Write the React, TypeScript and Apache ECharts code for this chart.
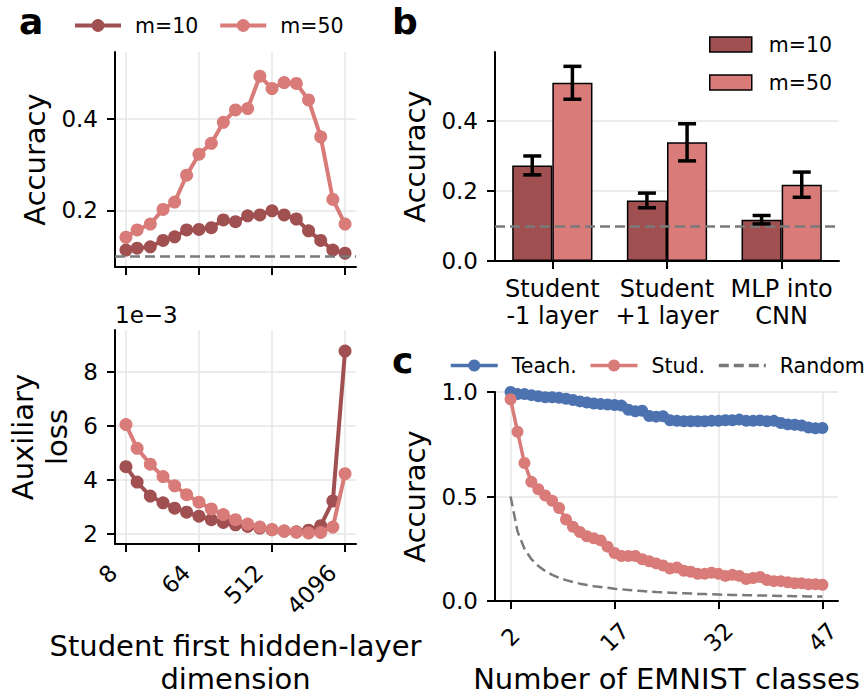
import React, { useEffect, useRef } from 'react';
import * as echarts from 'echarts';

// ---------- Panel a ----------
const dims = [8, 11, 16, 23, 32, 45, 64, 91, 128, 181, 256, 362, 512, 724, 1024, 1448, 2048, 2896, 4096];
const dimTicks = [8, 64, 512, 4096];
const accM10 = [0.113, 0.117, 0.12, 0.134, 0.142, 0.157, 0.158, 0.162, 0.179, 0.175, 0.188, 0.19, 0.199, 0.19, 0.181, 0.155, 0.134, 0.113, 0.106];
const accM50 = [0.141, 0.157, 0.17, 0.202, 0.218, 0.277, 0.323, 0.347, 0.393, 0.42, 0.423, 0.494, 0.467, 0.48, 0.478, 0.442, 0.361, 0.224, 0.17];
// auxiliary loss in units of 1e-3
const lossM10 = [4.49, 3.92, 3.4, 3.15, 2.95, 2.8, 2.65, 2.52, 2.42, 2.33, 2.27, 2.21, 2.15, 2.1, 2.07, 2.13, 2.3, 3.22, 8.78];
const lossM50 = [6.05, 5.17, 4.58, 4.12, 3.78, 3.45, 3.17, 2.92, 2.71, 2.52, 2.36, 2.25, 2.15, 2.1, 2.06, 2.03, 2.05, 2.25, 4.23];
const accTicksA = [0.2, 0.4];
const lossTicks = [2, 4, 6, 8];
const chanceA = 0.1;

// ---------- Panel b ----------
const barCats = ['Student\n-1 layer', 'Student\n+1 layer', 'MLP into\nCNN'];
const barM10 = [0.273, 0.173, 0.118];
const errM10 = [0.027, 0.021, 0.012];
const barM50 = [0.509, 0.339, 0.218];
const errM50 = [0.047, 0.053, 0.036];
const accTicksB = [0, 0.2, 0.4];
const chanceB = 0.1;

// ---------- Panel c ----------
const classes = [2, 3, 4, 5, 6, 7, 8, 9, 10, 11, 12, 13, 14, 15, 16, 17, 18, 19, 20, 21, 22, 23, 24, 25, 26, 27, 28, 29, 30, 31, 32, 33, 34, 35, 36, 37, 38, 39, 40, 41, 42, 43, 44, 45, 46, 47];
const teacher = [1.0, 0.99, 0.99, 0.985, 0.98, 0.975, 0.975, 0.972, 0.968, 0.962, 0.955, 0.95, 0.945, 0.942, 0.94, 0.938, 0.935, 0.915, 0.908, 0.91, 0.885, 0.882, 0.884, 0.865, 0.862, 0.86, 0.86, 0.86, 0.86, 0.862, 0.862, 0.865, 0.865, 0.868, 0.862, 0.862, 0.864, 0.86, 0.862, 0.852, 0.845, 0.843, 0.84, 0.83, 0.826, 0.828];
const student = [0.965, 0.81, 0.66, 0.57, 0.535, 0.505, 0.48, 0.445, 0.39, 0.355, 0.33, 0.31, 0.3, 0.29, 0.26, 0.23, 0.215, 0.215, 0.215, 0.2, 0.19, 0.18, 0.17, 0.155, 0.16, 0.145, 0.14, 0.13, 0.13, 0.135, 0.13, 0.12, 0.125, 0.12, 0.105, 0.11, 0.115, 0.1, 0.095, 0.095, 0.09, 0.085, 0.085, 0.08, 0.08, 0.078];
const randomAcc = [0.5, 0.333, 0.25, 0.2, 0.167, 0.143, 0.125, 0.111, 0.1, 0.091, 0.083, 0.077, 0.071, 0.067, 0.063, 0.059, 0.056, 0.053, 0.05, 0.048, 0.045, 0.043, 0.042, 0.04, 0.038, 0.037, 0.036, 0.034, 0.033, 0.032, 0.031, 0.03, 0.029, 0.029, 0.028, 0.027, 0.026, 0.026, 0.025, 0.024, 0.024, 0.023, 0.023, 0.022, 0.022, 0.021];
const classTicks = [2, 17, 32, 47];
const accTicksC = [0, 0.5, 1];

const FONT = "'DejaVu Sans', 'Liberation Sans', sans-serif";
const C10 = '#a15052';
const C50 = '#d87b79';
const CT = '#4c72b0';
const GRAY = '#7a7a7a';

function baseAxis(gridIndex: number, extra: any) {
  const { axisLabel = {}, axisTick = {}, splitLine = {}, nameTextStyle = {}, ...rest } = extra;
  return {
    gridIndex,
    axisLine: { show: true, onZero: false, lineStyle: { color: '#000', width: 2 } },
    axisTick: { show: true, length: 8, lineStyle: { color: '#000', width: 2 }, ...axisTick },
    axisLabel: { color: '#000', fontSize: 23, fontFamily: FONT, margin: 17, ...axisLabel },
    splitLine: { show: true, lineStyle: { color: '#e6e6e6', width: 1.5 }, ...splitLine },
    nameLocation: 'middle',
    nameTextStyle: { color: '#000', fontSize: 29, fontFamily: FONT, ...nameTextStyle },
    ...rest,
  };
}

function lineSeries(name: string, data: any[], color: string, idx: number, lw: number, size: number, z: number) {
  return {
    type: 'line',
    name,
    data,
    xAxisIndex: idx,
    yAxisIndex: idx,
    color,
    symbol: 'circle',
    symbolSize: size,
    showAllSymbol: true,
    lineStyle: { color, width: lw },
    itemStyle: { color },
    emphasis: { disabled: true },
    z,
  };
}

const chanceLine = (v: number) => ({
  silent: true,
  symbol: 'none',
  label: { show: false },
  lineStyle: { color: GRAY, type: [10, 5], width: 2.5 },
  data: [{ yAxis: v }],
});

function errRender(sign: number) {
  return (params: any, api: any) => {
    const idx = api.value(0);
    const lo = api.coord([idx, api.value(1)]);
    const hi = api.coord([idx, api.value(2)]);
    const band = api.size([1, 0])[0];
    const barW = (band * 0.7) / 2;
    const x = lo[0] + (sign * barW) / 2;
    const cap = 9;
    const style = { stroke: '#000', lineWidth: 3.5 };
    return {
      type: 'group',
      children: [
        { type: 'line', shape: { x1: x, y1: lo[1], x2: x, y2: hi[1] }, style },
        { type: 'line', shape: { x1: x - cap, y1: lo[1], x2: x + cap, y2: lo[1] }, style },
        { type: 'line', shape: { x1: x - cap, y1: hi[1], x2: x + cap, y2: hi[1] }, style },
      ],
    };
  };
}

// y is the top of the text box
function letter(t: string, x: number, y: number) {
  return {
    type: 'text',
    x,
    y,
    style: {
      text: t,
      font: `bold 36px ${FONT}`,
      fill: '#000',
      verticalAlign: 'top',
      textVerticalAlign: 'top',
    },
  };
}

const legendText = { fontSize: 20.5, color: '#000', fontFamily: FONT, padding: [0, 0, 0, 9] };

function buildOption() {
  const logX = (i: number) => Math.log2(dims[i]);
  const logTicks = dimTicks.map((d) => Math.log2(d));
  return {
    animation: false,
    backgroundColor: '#fff',
    textStyle: { fontFamily: FONT },
    grid: [
      { left: 115, top: 52, width: 241, height: 215 },
      { left: 115, top: 330, width: 241, height: 216 },
      { left: 495, top: 52, width: 344, height: 209 },
      { left: 495, top: 392, width: 343, height: 209 },
    ],
    xAxis: [
      baseAxis(0, {
        type: 'value', min: 2.55, max: 12.45,
        axisTick: { customValues: logTicks },
        axisLabel: { show: false, customValues: logTicks },
      }),
      baseAxis(1, {
        type: 'value', min: 2.55, max: 12.45,
        axisTick: { customValues: logTicks },
        axisLabel: {
          customValues: logTicks, rotate: 45, margin: 12, padding: [0, 18, 0, 0],
          formatter: (v: number) => String(Math.round(Math.pow(2, v))),
        },
        name: 'Student first hidden-layer\ndimension', nameGap: 85,
        nameTextStyle: { lineHeight: 33 },
      }),
      baseAxis(2, {
        type: 'category', data: barCats,
        axisTick: { alignWithLabel: true },
        axisLabel: { fontSize: 24, lineHeight: 27, margin: 14, interval: 0 },
        splitLine: { show: false },
      }),
      baseAxis(3, {
        type: 'value', min: -0.25, max: 49.25,
        axisTick: { customValues: classTicks },
        axisLabel: { customValues: classTicks, rotate: 45, align: 'center', margin: 36 },
        name: 'Number of EMNIST classes', nameGap: 61,
        nameTextStyle: { lineHeight: 33 },
      }),
    ],
    yAxis: [
      baseAxis(0, {
        type: 'value', min: 0.0758, max: 0.547,
        axisTick: { customValues: accTicksA },
        axisLabel: { customValues: accTicksA, formatter: (v: number) => v.toFixed(1) },
        name: 'Accuracy', nameGap: 66,
      }),
      baseAxis(1, {
        type: 'value', min: 1.62, max: 9.56,
        axisTick: { customValues: lossTicks },
        axisLabel: { customValues: lossTicks, formatter: (v: number) => String(v) },
        name: 'Auxiliary\nloss', nameGap: 41,
        nameTextStyle: { lineHeight: 34 },
      }),
      baseAxis(2, {
        type: 'value', min: 0, max: 0.597,
        axisTick: { customValues: accTicksB },
        axisLabel: { customValues: accTicksB, formatter: (v: number) => v.toFixed(1) },
        name: 'Accuracy', nameGap: 66,
      }),
      baseAxis(3, {
        type: 'value', min: 0, max: 1,
        axisTick: { customValues: accTicksC },
        axisLabel: { customValues: accTicksC, formatter: (v: number) => v.toFixed(1) },
        name: 'Accuracy', nameGap: 66,
      }),
    ],
    legend: [
      {
        data: ['m=10', 'm=50'],
        left: 73, top: 15, padding: 0, itemWidth: 46, itemHeight: 16, itemGap: 20,
        lineStyle: { width: 4 },
        textStyle: legendText,
        selectedMode: false,
      },
      {
        data: [
          { name: 'm=10', icon: 'rect', itemStyle: { color: C10, borderColor: '#000', borderWidth: 1.5 } },
          { name: 'm=50', icon: 'rect', itemStyle: { color: C50, borderColor: '#000', borderWidth: 1.5 } },
        ],
        orient: 'vertical', left: 709, top: 34, padding: 0, itemWidth: 42, itemHeight: 15, itemGap: 17,
        textStyle: { ...legendText, padding: [0, 0, 0, 12] },
        selectedMode: false,
      },
      {
        data: ['Teach.', 'Stud.', { name: 'Random', itemStyle: { opacity: 0 } }],
        left: 449, top: 355, padding: 0, itemWidth: 47, itemHeight: 15, itemGap: 12,
        lineStyle: { width: 3.5 },
        textStyle: legendText,
        selectedMode: false,
      },
    ],
    series: [
      { ...lineSeries('m=10', dims.map((d, i) => [logX(i), accM10[i]]), C10, 0, 4, 13, 3), markLine: chanceLine(chanceA) },
      lineSeries('m=50', dims.map((d, i) => [logX(i), accM50[i]]), C50, 0, 4, 13, 4),
      lineSeries('m=10', dims.map((d, i) => [logX(i), lossM10[i]]), C10, 1, 4, 13, 3),
      lineSeries('m=50', dims.map((d, i) => [logX(i), lossM50[i]]), C50, 1, 4, 13, 4),
      {
        type: 'bar', name: 'm=10', data: barM10, xAxisIndex: 2, yAxisIndex: 2,
        barGap: '0%', barCategoryGap: '30%',
        itemStyle: { color: C10, borderColor: '#000', borderWidth: 1.5 },
        emphasis: { disabled: true },
        markLine: chanceLine(chanceB),
      },
      {
        type: 'bar', name: 'm=50', data: barM50, xAxisIndex: 2, yAxisIndex: 2,
        barGap: '0%', barCategoryGap: '30%',
        itemStyle: { color: C50, borderColor: '#000', borderWidth: 1.5 },
        emphasis: { disabled: true },
      },
      {
        type: 'custom', name: 'err10', xAxisIndex: 2, yAxisIndex: 2, z: 5,
        data: barCats.map((c, i) => [i, barM10[i] - errM10[i], barM10[i] + errM10[i]]),
        encode: { x: 0, y: [1, 2] },
        renderItem: errRender(-1),
      },
      {
        type: 'custom', name: 'err50', xAxisIndex: 2, yAxisIndex: 2, z: 5,
        data: barCats.map((c, i) => [i, barM50[i] - errM50[i], barM50[i] + errM50[i]]),
        encode: { x: 0, y: [1, 2] },
        renderItem: errRender(1),
      },
      lineSeries('Teach.', classes.map((n, i) => [n, teacher[i]]), CT, 3, 3.5, 12, 3),
      lineSeries('Stud.', classes.map((n, i) => [n, student[i]]), C50, 3, 3.5, 12, 4),
      {
        type: 'line', name: 'Random', xAxisIndex: 3, yAxisIndex: 3,
        data: classes.map((n, i) => [n, randomAcc[i]]),
        symbol: 'none', color: GRAY,
        lineStyle: { color: GRAY, width: 2.5, type: [10, 5] },
        emphasis: { disabled: true },
        z: 2,
      },
    ],
    graphic: [
      letter('a', 19, 3),
      letter('b', 392, 3),
      letter('c', 392, 342),
      {
        type: 'text', x: 115, y: 303,
        style: { text: '1e\u22123', font: `23px ${FONT}`, fill: '#000', verticalAlign: 'top', textVerticalAlign: 'top' },
      },
    ],
  };
}

export default function App() {
  const ref = useRef<HTMLDivElement>(null);
  useEffect(() => {
    const chart = echarts.init(ref.current as HTMLDivElement, null, { renderer: 'svg' });
    chart.setOption(buildOption() as any);
    return () => chart.dispose();
  }, []);
  return (
    <div
      ref={ref}
      style={{ position: 'fixed', left: 0, top: 0, width: 867, height: 696, background: '#fff' }}
    />
  );
}
